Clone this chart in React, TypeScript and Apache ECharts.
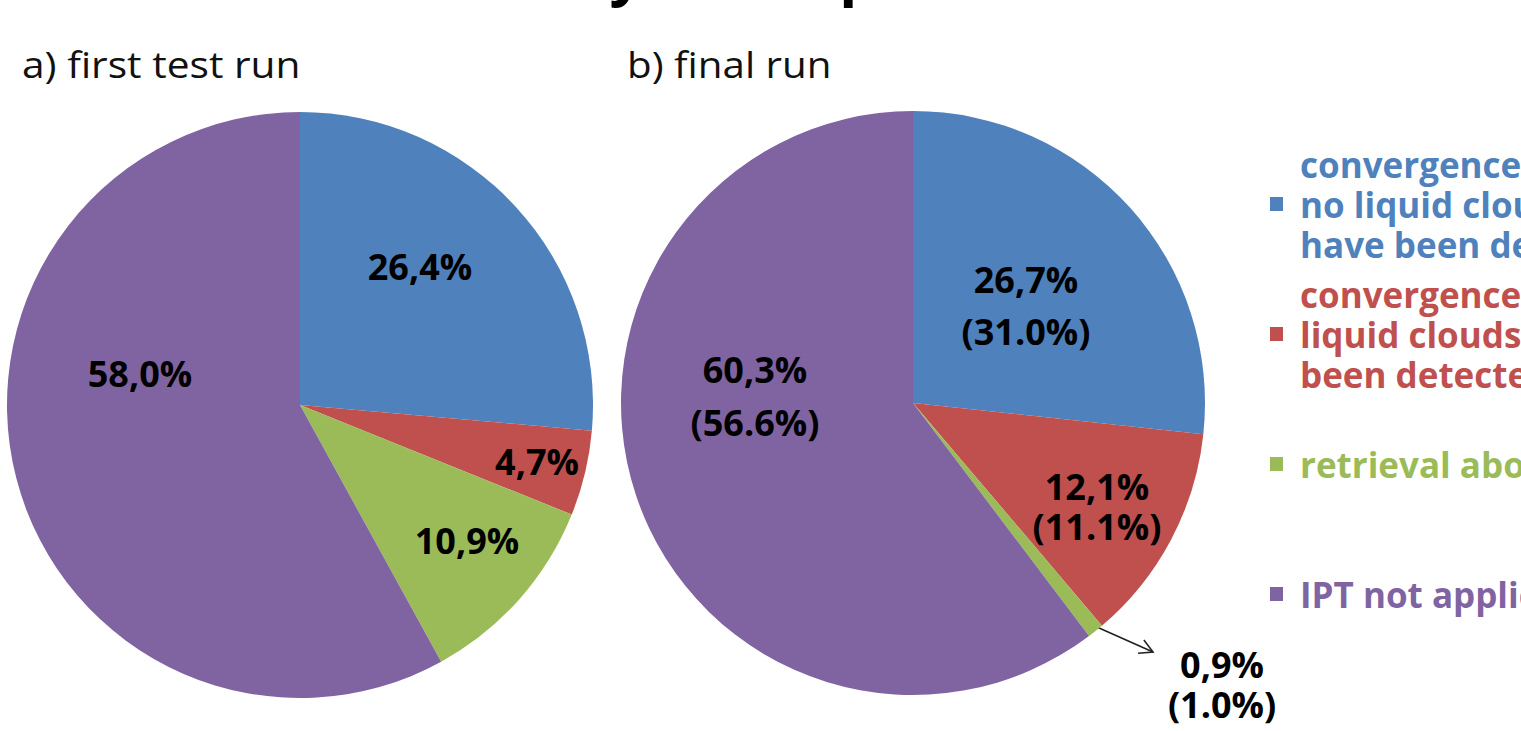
import React, { useEffect, useRef } from "react";
import * as echarts from "echarts";

// Categories shown in both pies and in the shared legend
const CATEGORIES = [
  "convergence, no liquid clouds have been detected",
  "convergence, liquid clouds have been detected",
  "retrieval aborted",
  "IPT not applicable",
];
const LEGEND_LINES = [
  "convergence,\nno liquid clouds\nhave been detected",
  "convergence,\nliquid clouds have\nbeen detected",
  "retrieval aborted",
  "IPT not applicable",
];
const PANEL_TITLES = ["a) first test run", "b) final run"];
const SLIDE_TITLE = "Summary of IPT performance";

// Shares in percent
const FIRST_RUN = [26.4, 4.7, 10.9, 58.0];
const FINAL_RUN = [26.7, 12.1, 0.9, 60.3];
const FINAL_RUN_ALT = [31.0, 11.1, 1.0, 56.6];

const COLORS = ["#4F81BD", "#C0504D", "#9BBB59", "#8064A2"];

// Layout
const PIE_A = { cx: 300, cy: 405, r: 293 };
const PIE_B = { cx: 913, cy: 403, r: 292 };
const LABEL_POS_A = [[420, 266], [537, 461], [467, 540], [140, 373]];
const LABEL_POS_B = [[1026, 305], [1097, 506], [1222, 684], [755, 396]];
const LINE_H_B = [52, 40, 40, 53];
const ARROW_TIP = [1153, 652];
const SMALL_SLICE = 2; // slice of the final run that gets an arrow

const FONT = "'Open Sans', 'Liberation Sans', sans-serif";

const comma = (v: number) => v.toFixed(1).replace(".", ",");

function arrowGraphics() {
  // point on the rim of the small slice of pie b, at its mid angle
  const total = FINAL_RUN.reduce((s, v) => s + v, 0);
  const before = FINAL_RUN.slice(0, SMALL_SLICE).reduce((s, v) => s + v, 0);
  const mid = ((before + FINAL_RUN[SMALL_SLICE] / 2) / total) * Math.PI * 2;
  const rr = PIE_B.r * 0.97;
  const sx = PIE_B.cx + rr * Math.sin(mid);
  const sy = PIE_B.cy - rr * Math.cos(mid);
  const [tx, ty] = ARROW_TIP;
  const len = Math.hypot(tx - sx, ty - sy);
  const ux = (tx - sx) / len;
  const uy = (ty - sy) / len;
  const wing = (a: number) => {
    const c = Math.cos(a), s = Math.sin(a);
    const bx = -(ux * c - uy * s);
    const by = -(ux * s + uy * c);
    return [tx + bx * 15, ty + by * 15];
  };
  const stroke = { stroke: "#222", lineWidth: 1.6 };
  return [
    { type: "line", shape: { x1: sx, y1: sy, x2: tx, y2: ty }, style: stroke, silent: true },
    { type: "polyline", shape: { points: [wing(0.5), [tx, ty], wing(-0.5)] }, style: { ...stroke, fill: "none" }, silent: true },
  ];
}

export default function App() {
  const ref = useRef<HTMLDivElement>(null);

  useEffect(() => {
    if (!ref.current) return;
    const chart = echarts.init(ref.current, undefined, { renderer: "svg" });

    const labelBase = {
      show: true,
      position: "inside",
      color: "#000",
      fontFamily: FONT,
      fontWeight: "bold",
      fontSize: 36,
    };

    const pieCommon = {
      type: "pie",
      startAngle: 90,
      clockwise: true,
      avoidLabelOverlap: false,
      silent: true,
      emphasis: { disabled: true },
      labelLine: { show: false },
    };

    chart.setOption({
      animation: false,
      backgroundColor: "#ffffff",
      legend: {
        orient: "vertical",
        left: 1270,
        top: 144,
        padding: 0,
        itemGap: 10,
        icon: "rect",
        itemWidth: 13,
        itemHeight: 14,
        selectedMode: false,
        textStyle: {
          fontFamily: FONT,
          fontWeight: "bold",
          fontSize: 35,
          lineHeight: 40,
          padding: [0, 0, 0, 12],
        },
        formatter: (name: string) => LEGEND_LINES[CATEGORIES.indexOf(name)],
        data: CATEGORIES.map((name, i) => ({
          name,
          textStyle: { color: COLORS[i], lineHeight: LEGEND_LINES[i].includes("\n") ? 40 : 120 },
        })),
      },
      series: [
        {
          ...pieCommon,
          name: PANEL_TITLES[0],
          center: [PIE_A.cx, PIE_A.cy],
          radius: [0, PIE_A.r],
          label: { ...labelBase, formatter: (p: any) => `${comma(p.value)}%` },
          labelLayout: (p: any) => ({
            x: LABEL_POS_A[p.dataIndex][0],
            y: LABEL_POS_A[p.dataIndex][1],
            align: "center",
            verticalAlign: "middle",
          }),
          data: CATEGORIES.map((name, i) => ({
            name,
            value: FIRST_RUN[i],
            itemStyle: { color: COLORS[i] },
          })),
        },
        {
          ...pieCommon,
          name: PANEL_TITLES[1],
          center: [PIE_B.cx, PIE_B.cy],
          radius: [0, PIE_B.r],
          label: {
            ...labelBase,
            formatter: (p: any) => `${comma(p.value)}%\n(${FINAL_RUN_ALT[p.dataIndex].toFixed(1)}%)`,
          },
          labelLayout: (p: any) => ({
            x: LABEL_POS_B[p.dataIndex][0],
            y: LABEL_POS_B[p.dataIndex][1],
            align: "center",
            verticalAlign: "middle",
          }),
          data: CATEGORIES.map((name, i) => ({
            name,
            value: FINAL_RUN[i],
            itemStyle: { color: COLORS[i] },
            label: { lineHeight: LINE_H_B[i] },
          })),
        },
      ],
      graphic: [
        {
          type: "text",
          x: 360,
          y: -29,
          silent: true,
          style: {
            text: SLIDE_TITLE,
            fill: "#000",
            font: `bold 59px ${FONT}`,
            verticalAlign: "middle",
          },
        },
        {
          type: "text",
          x: 22,
          y: 64,
          scaleX: 1.13,
          silent: true,
          style: { text: PANEL_TITLES[0], fill: "#111", font: `36px ${FONT}`, verticalAlign: "middle" },
        },
        {
          type: "text",
          x: 627,
          y: 64,
          scaleX: 1.12,
          silent: true,
          style: { text: PANEL_TITLES[1], fill: "#111", font: `36px ${FONT}`, verticalAlign: "middle" },
        },
        ...arrowGraphics(),
      ],
    });

    return () => chart.dispose();
  }, []);

  return (
    <div
      ref={ref}
      style={{ position: "absolute", left: 0, top: 0, width: 1521, height: 731 }}
    />
  );
}
